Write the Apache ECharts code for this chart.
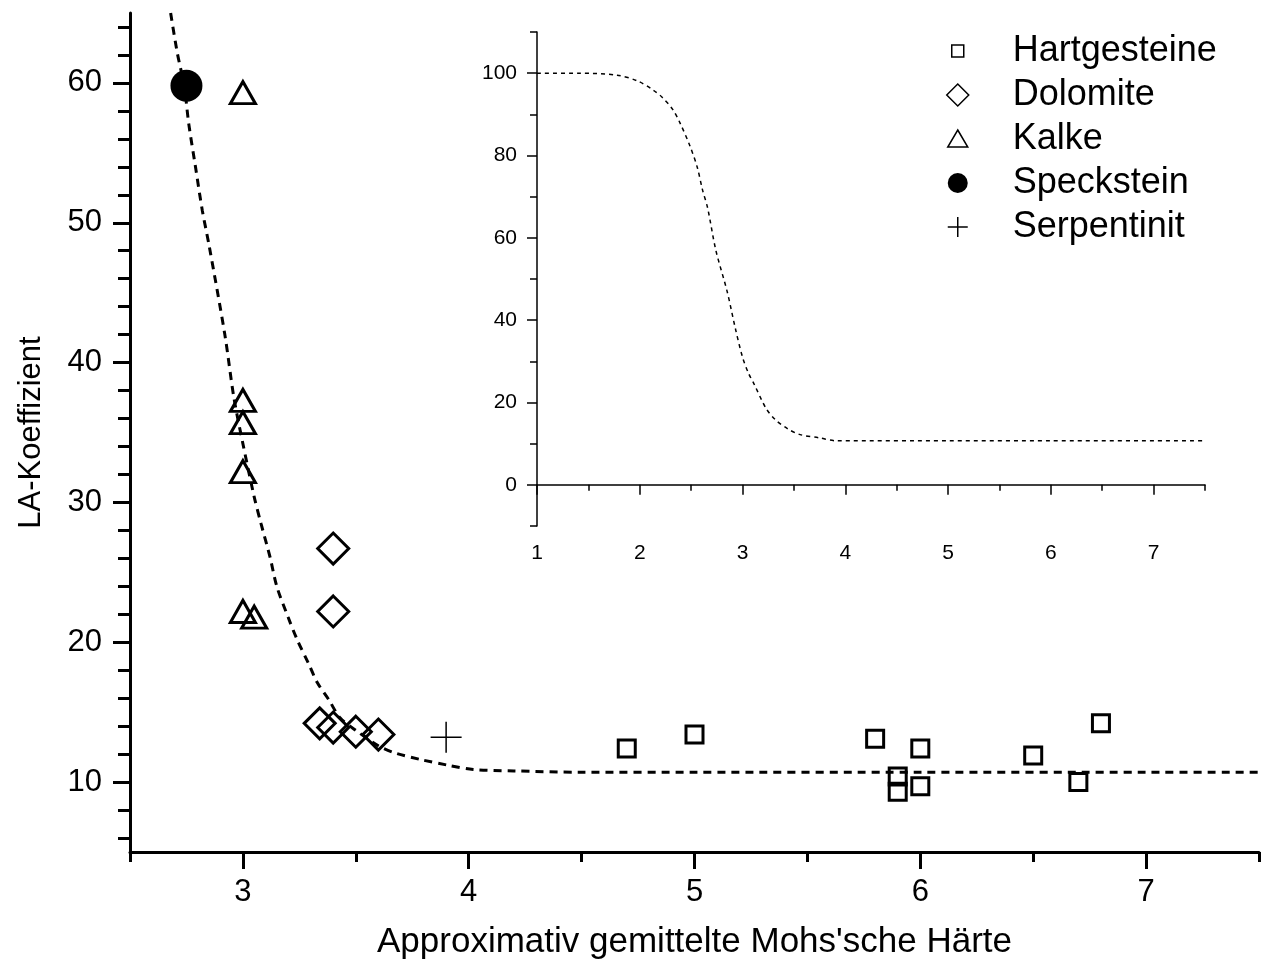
<!DOCTYPE html>
<html>
<head>
<meta charset="utf-8">
<script src="https://cdn.jsdelivr.net/npm/echarts@6/dist/echarts.min.js"></script>
<style>
  html, body { margin: 0; padding: 0; background: #fff; }
  #chart { width: 1270px; height: 971px; }
</style>
</head>
<body>
<div id="chart"></div>
<script>
// Messwerte (Mohs-Härte, LA-Koeffizient)
const hartX = [4.7, 5.0, 5.8, 5.9, 5.9, 6.0, 6.0, 6.5, 6.7, 6.8]
const hartY = [12.4, 13.4, 13.1, 10.4, 9.3, 12.4, 9.7, 11.9, 10.0, 14.2]
const dolX = [3.4, 3.4, 3.34, 3.4, 3.5, 3.6]
const dolY = [26.7, 22.2, 14.2, 13.9, 13.6, 13.4]
const kalkX = [3.0, 3.0, 3.0, 3.0, 3.0, 3.05]
const kalkY = [59.3, 37.3, 35.7, 32.2, 22.2, 21.8]
const speckX = [2.75]
const speckY = [59.8]
const serpX = [3.9]
const serpY = [13.2]

// Ausgleichskurve im Hauptdiagramm
const fitX = [2.68, 2.71, 2.74, 2.76, 2.79, 2.82, 2.85, 2.92, 2.96, 3.0, 3.05, 3.08, 3.12, 3.15, 3.2, 3.24, 3.29, 3.33, 3.38, 3.43, 3.5, 3.6, 3.67, 3.79, 3.91, 4.02, 4.2, 4.5, 5.0, 6.0, 7.0, 7.5]
const fitY = [65, 62.1, 59.8, 57.1, 54.0, 50.9, 48.4, 42.0, 37.5, 34.2, 30.4, 28.5, 26.1, 24.0, 21.8, 20.2, 18.5, 17.1, 15.9, 14.6, 13.7, 12.6, 12.1, 11.6, 11.2, 10.9, 10.8, 10.7, 10.7, 10.7, 10.7, 10.7]

// Kurve im kleinen Diagramm
const insetX = [1.0, 1.4, 1.78, 1.98, 2.13, 2.22, 2.32, 2.39, 2.49, 2.56, 2.61, 2.66, 2.74, 2.85, 2.93, 3.0, 3.06, 3.11, 3.23, 3.32, 3.44, 3.56, 3.75, 3.91, 5.0, 6.0, 7.5]
const insetY = [100, 100, 99.5, 98.1, 95.9, 94.1, 91.2, 88.0, 82.2, 77.1, 71.7, 67.3, 57, 47, 38, 31, 27, 24.6, 18.5, 15.8, 13.6, 12.2, 11.4, 10.7, 10.7, 10.7, 10.7]

// Achsen-Ticks
const xMajor = [3, 4, 5, 6, 7]
const xMinor = [2.5, 3.5, 4.5, 5.5, 6.5, 7.5]
const yMajor = [10, 20, 30, 40, 50, 60]
const yMinor = [6, 8, 12, 14, 16, 18, 22, 24, 26, 28, 32, 34, 36, 38, 42, 44, 46, 48, 52, 54, 56, 58, 62, 64]
const inXMajor = [1, 2, 3, 4, 5, 6, 7]
const inXMinor = [1.5, 2.5, 3.5, 4.5, 5.5, 6.5, 7.5]
const inYMajor = [0, 20, 40, 60, 80, 100]
const inYMinor = [-10, 10, 30, 50, 70, 90, 110]

const legendNames = ['Hartgesteine', 'Dolomite', 'Kalke', 'Speckstein', 'Serpentinit']

const FONT = "'Liberation Sans', Arial, sans-serif"
const zip = (xs, ys) => xs.map((x, i) => [x, ys[i]])

const hollow = { color: 'rgba(0,0,0,0)', borderColor: '#000', borderWidth: 3, opacity: 1 }
const thin = { color: 'rgba(0,0,0,0)', borderColor: '#000', borderWidth: 1.5, opacity: 1 }

function mainAxis(min, max, labels, ticks, len, show, extra) {
  return Object.assign({
    type: 'value', gridIndex: 0, min: min, max: max,
    axisLine: { show: show, lineStyle: { color: '#000', width: 3 } },
    axisTick: { show: true, inside: false, length: len, customValues: ticks, lineStyle: { color: '#000', width: 3 } },
    axisLabel: { show: show, customValues: labels, color: '#000', fontSize: 31, fontFamily: FONT },
    splitLine: { show: false }
  }, extra)
}

function insetAxis(min, max, labels, ticks, len, show, extra) {
  return Object.assign({
    type: 'value', gridIndex: 1, min: min, max: max,
    axisLine: { show: show, lineStyle: { color: '#000', width: 1.5 } },
    axisTick: { show: true, inside: false, length: len, customValues: ticks, lineStyle: { color: '#000', width: 1.5 } },
    axisLabel: { show: show, customValues: labels, color: '#000', fontSize: 21, fontFamily: FONT },
    splitLine: { show: false }
  }, extra)
}

const chart = echarts.init(document.getElementById('chart'))
const option = {
  animation: false,
  backgroundColor: '#fff',
  grid: [
    { left: 130, right: 11, top: 13, bottom: 119, outerBoundsMode: 'none', containLabel: false },
    { left: 537, right: 65, top: 32, bottom: 445, outerBoundsMode: 'none', containLabel: false }
  ],
  xAxis: [
    mainAxis(2.5, 7.5, xMajor, xMajor, 17, true, {
      position: 'bottom', name: "Approximativ gemittelte Mohs'sche Härte", nameLocation: 'middle', nameGap: 73,
      nameTextStyle: { fontSize: 35, color: '#000', fontFamily: FONT }
    }),
    mainAxis(2.5, 7.5, [], xMinor, 10, false, { position: 'bottom' }),
    insetAxis(1, 7.5, inXMajor, inXMajor, 10, true, { position: 'bottom' }),
    insetAxis(1, 7.5, [], inXMinor, 6, false, { position: 'bottom' })
  ],
  yAxis: [
    mainAxis(5, 65, yMajor, yMajor, 17, true, {
      position: 'left', name: 'LA-Koeffizient', nameLocation: 'middle', nameGap: 83,
      nameTextStyle: { fontSize: 31, color: '#000', fontFamily: FONT }
    }),
    mainAxis(5, 65, [], yMinor, 12, false, { position: 'left' }),
    insetAxis(-10, 110, inYMajor, inYMajor, 10, true, { position: 'left' }),
    insetAxis(-10, 110, [], inYMinor, 7, false, { position: 'left' })
  ],
  legend: {
    orient: 'vertical', left: 942, top: 33, padding: 0,
    itemWidth: 65, itemHeight: 30, itemGap: 8,
    textStyle: { color: '#000', fontSize: 36, fontFamily: FONT, lineHeight: 30 },
    selectedMode: false,
    data: [
      { name: legendNames[0], icon: 'path://M0,0M65,30M9,9L21,9L21,21L9,21Z', itemStyle: thin },
      { name: legendNames[1], icon: 'path://M0,0M65,30M15,4L26,15L15,26L4,15Z', itemStyle: thin },
      { name: legendNames[2], icon: 'path://M0,0M65,30M15,6L25,23L5,23Z', itemStyle: thin },
      { name: legendNames[3], icon: 'path://M0,0M65,30M5,15A10,10,0,1,1,25,15A10,10,0,1,1,5,15Z', itemStyle: { color: '#000', borderWidth: 0, opacity: 1 } },
      { name: legendNames[4], icon: 'path://M0,0M65,30M5,15L25,15M15,5L15,25', itemStyle: thin }
    ]
  },
  series: [
    {
      name: 'Fit', type: 'line', xAxisIndex: 0, yAxisIndex: 0, data: zip(fitX, fitY),
      showSymbol: false, smooth: 0.3, silent: true,
      lineStyle: { color: '#000', width: 3, type: [8, 6] }
    },
    {
      name: legendNames[0], type: 'scatter', xAxisIndex: 0, yAxisIndex: 0, data: zip(hartX, hartY),
      symbol: 'rect', symbolSize: 17, itemStyle: hollow, emphasis: { disabled: true }
    },
    {
      name: legendNames[1], type: 'scatter', xAxisIndex: 0, yAxisIndex: 0, data: zip(dolX, dolY),
      symbol: 'diamond', symbolSize: 31, itemStyle: hollow, emphasis: { disabled: true }
    },
    {
      name: legendNames[2], type: 'scatter', xAxisIndex: 0, yAxisIndex: 0, data: zip(kalkX, kalkY),
      symbol: 'triangle', symbolSize: [25, 22], itemStyle: hollow, emphasis: { disabled: true }
    },
    {
      name: legendNames[3], type: 'scatter', xAxisIndex: 0, yAxisIndex: 0, data: zip(speckX, speckY),
      symbol: 'circle', symbolSize: 32, itemStyle: { color: '#000', opacity: 1 }, emphasis: { disabled: true }
    },
    {
      name: legendNames[4], type: 'scatter', xAxisIndex: 0, yAxisIndex: 0, data: zip(serpX, serpY),
      symbol: 'path://M0,10L20,10M10,0L10,20', symbolSize: 31, itemStyle: thin, emphasis: { disabled: true }
    },
    {
      name: 'Inset', type: 'line', xAxisIndex: 2, yAxisIndex: 2, data: zip(insetX, insetY),
      showSymbol: false, smooth: 0.3, silent: true,
      lineStyle: { color: '#000', width: 1.5, type: [4, 4] }
    }
  ]
}
option.xAxis[0].axisLabel.margin = 25
option.yAxis[0].axisLabel.margin = 28
option.xAxis[2].axisLabel.margin = 17
option.yAxis[2].axisLabel.margin = 20
chart.setOption(option)
</script>
</body>
</html>
